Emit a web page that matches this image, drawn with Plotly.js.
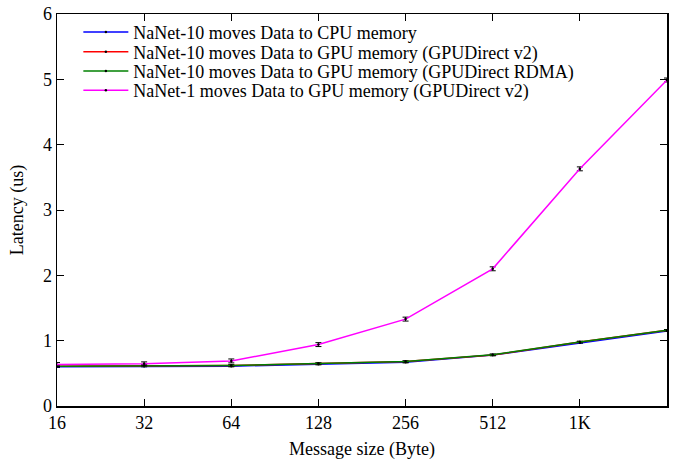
<!DOCTYPE html>
<html><head><meta charset="utf-8">
<script src="https://cdn.plot.ly/plotly-3.0.1.min.js"></script>
<style>html,body{margin:0;padding:0;background:#fff}#c{width:674px;height:460px}</style>
</head><body><div id="c"></div>
<script>
const sizes = [16, 32, 64, 128, 256, 512, 1024, 2048];
const tickVals = [16, 32, 64, 128, 256, 512, 1024];
const tickText = ['16', '32', '64', '128', '256', '512', '1K'];
const names = [
  'NaNet-10 moves Data to CPU memory',
  'NaNet-10 moves Data to GPU memory (GPUDirect v2)',
  'NaNet-10 moves Data to GPU memory (GPUDirect RDMA)',
  'NaNet-1 moves Data to GPU memory (GPUDirect v2)'
];
const cpu10   = [0.60, 0.61, 0.61, 0.64, 0.67, 0.78, 0.97, 1.15];
const gpuV2_10 = [0.61, 0.62, 0.62, 0.65, 0.68, 0.78, 0.98, 1.16];
const rdma10  = [0.61, 0.62, 0.62, 0.65, 0.68, 0.785, 0.98, 1.16];
const gpuV2_1 = [0.635, 0.645, 0.69, 0.94, 1.33, 2.10, 3.63, 4.99];
const err10   = [0.01, 0.01, 0.01, 0.01, 0.01, 0.01, 0.01, 0.01];
const err1    = [0.03, 0.03, 0.03, 0.03, 0.03, 0.03, 0.03, 0.03];
const colors = ['#0000ff', '#ff0000', '#008000', '#ff00ff'];
const series = [cpu10, gpuV2_10, rdma10, gpuV2_1];
const errs = [err10, err10, err10, err1];
const legendIds = ['legend', 'legend2', 'legend3', 'legend4'];

const traces = series.map((ys, i) => ({
  x: sizes, y: ys, name: names[i], type: 'scatter', mode: 'lines+markers',
  legend: legendIds[i],
  line: {color: colors[i], width: 1.5},
  marker: {color: '#000', size: 2.5},
  error_y: {type: 'data', array: errs[i], visible: true, color: '#000', thickness: 1, width: 3},
  cliponaxis: false
}));

const font = {family: 'Liberation Serif, Times New Roman, serif', size: 18, color: '#000'};
const legendY = [0.953, 0.903, 0.854, 0.805];
const layout = {
  width: 674, height: 460,
  margin: {l: 57, r: 7, t: 14, b: 54},
  paper_bgcolor: '#fff', plot_bgcolor: '#fff',
  font: font,
  showlegend: true,
  xaxis: {
    type: 'log', range: [Math.log10(16), Math.log10(2048)],
    tickvals: tickVals, ticktext: tickText,
    ticks: 'inside', ticklen: 7, tickcolor: '#000', tickwidth: 1,
    showline: true, linecolor: '#000', linewidth: 1.5, mirror: 'allticks',
    showgrid: false, zeroline: false,
    title: {text: 'Message size (Byte)', font: font, standoff: 10},
    tickfont: font
  },
  yaxis: {
    range: [0, 6], dtick: 1,
    ticks: 'inside', ticklen: 7, tickcolor: '#000', tickwidth: 1,
    showline: true, linecolor: '#000', linewidth: 1.5, mirror: 'allticks',
    showgrid: false, zeroline: false,
    title: {text: 'Latency (us)', font: font, standoff: 14},
    tickfont: font
  }
};
legendIds.forEach((id, i) => {
  layout[id] = {x: 0.035, y: legendY[i], xanchor: 'left', yanchor: 'middle',
    bgcolor: 'rgba(0,0,0,0)', font: font, itemwidth: 45};
});
Plotly.newPlot('c', traces, layout, {displayModeBar: false, staticPlot: true});
</script></body></html>
